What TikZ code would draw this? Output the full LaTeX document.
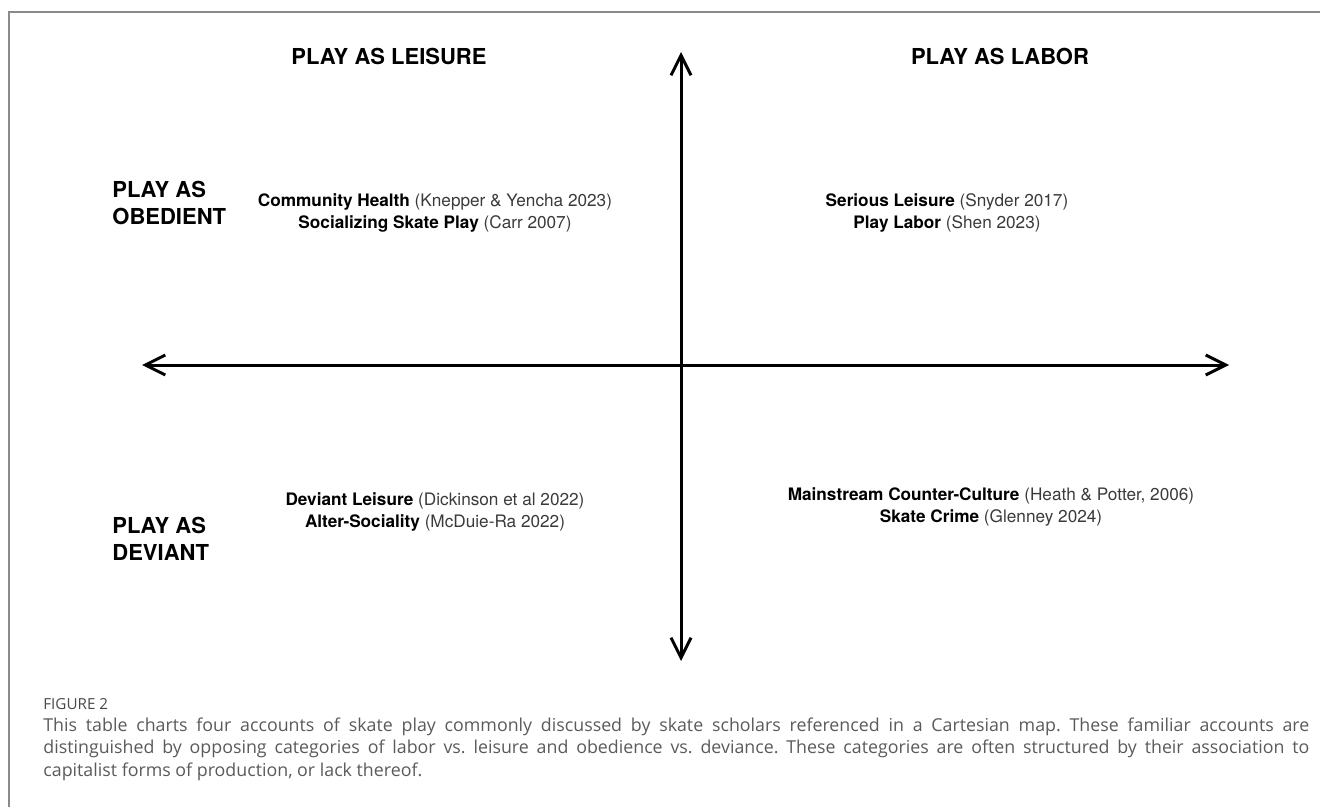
\documentclass[tikz,border=0pt]{standalone}
\usepackage{fontspec}
\setmainfont{TeX Gyre Heros}
\newfontfamily\capfont{Open Sans}
\usetikzlibrary{arrows.meta}
\definecolor{citegray}{HTML}{3A3A3A}
\definecolor{capgray}{HTML}{5A5A5A}
\definecolor{framegray}{HTML}{8A8A8A}
\newcommand{\mapitem}[2]{\textbf{#1} {\color{citegray}#2}}
\frenchspacing

\begin{document}
\begin{tikzpicture}[x=0.5pt,y=-0.5pt,
		axis/.style={line width=1.5pt,{Straight Barb[length=10pt,width=10pt]}-{Straight Barb[length=10pt,width=10pt]}},
		head/.style={anchor=base,inner sep=0pt,font=\fontsize{11}{13.5}\selectfont\bfseries},
		side/.style={anchor=base west,inner sep=0pt,font=\fontsize{11}{13.5}\selectfont\bfseries},
		item/.style={anchor=base,inner sep=0pt,font=\fontsize{8.6}{11}\selectfont}]
		\useasboundingbox (0,0) rectangle (1320,807);
		\draw[framegray,line width=0.8pt] (9,807) -- (9,12) -- (1320,12);
		
		\coordinate (top) at (681,52);
		\coordinate (bottom) at (681,661);
		\coordinate (left) at (142,365);
		\coordinate (right) at (1229,365);
		\draw[axis] (bottom) -- (top);
		\draw[axis] (left) -- (right);
		
		\node[head] (leisure) at (389,65) {PLAY AS LEISURE};
		\node[head] (labor) at (1000,65) {PLAY AS LABOR};
		\node[side] (obedient1) at (112,198) {PLAY AS};
		\node[side] (obedient2) at (112,225) {OBEDIENT};
		\node[side] (deviant1) at (112,533) {PLAY AS};
		\node[side] (deviant2) at (112,560) {DEVIANT};
		
		\node[item] (health) at (435,207) {\mapitem{Community Health}{(Knepper \& Yencha 2023)}};
		\node[item] (socializing) at (435,229) {\mapitem{Socializing Skate Play}{(Carr 2007)}};
		\node[item] (serious) at (947,207) {\mapitem{Serious Leisure}{(Snyder 2017)}};
		\node[item] (playlabor) at (947,229) {\mapitem{Play Labor}{(Shen 2023)}};
		\node[item] (deviantleisure) at (435,505) {\mapitem{Deviant Leisure}{(Dickinson et al 2022)}};
		\node[item] (altersociality) at (435,527) {\mapitem{Alter-Sociality}{(McDuie-Ra 2022)}};
		\node[item] (counterculture) at (991,500) {\mapitem{Mainstream Counter-Culture}{(Heath \& Potter, 2006)}};
		\node[item] (skatecrime) at (991,522) {\mapitem{Skate Crime}{(Glenney 2024)}};
		
		\node[anchor=base west,inner sep=0pt,text=capgray!80!black,font=\capfont\fontsize{7.6}{9}\selectfont] (figlabel) at (43,709) {FIGURE 2};
		\node[anchor=base west,inner sep=0pt,text=capgray,font=\capfont\fontsize{8.9}{11.3}\selectfont] (caption) at (43,731) {\parbox[t]{633pt}{This table charts four accounts of skate play commonly discussed by skate scholars referenced in a Cartesian map. These familiar accounts are\linebreak distinguished by opposing categories of labor vs. leisure and obedience vs. deviance. These categories are often structured by their association to\linebreak capitalist forms of production, or lack thereof.}};
	\end{tikzpicture}
\end{document}
